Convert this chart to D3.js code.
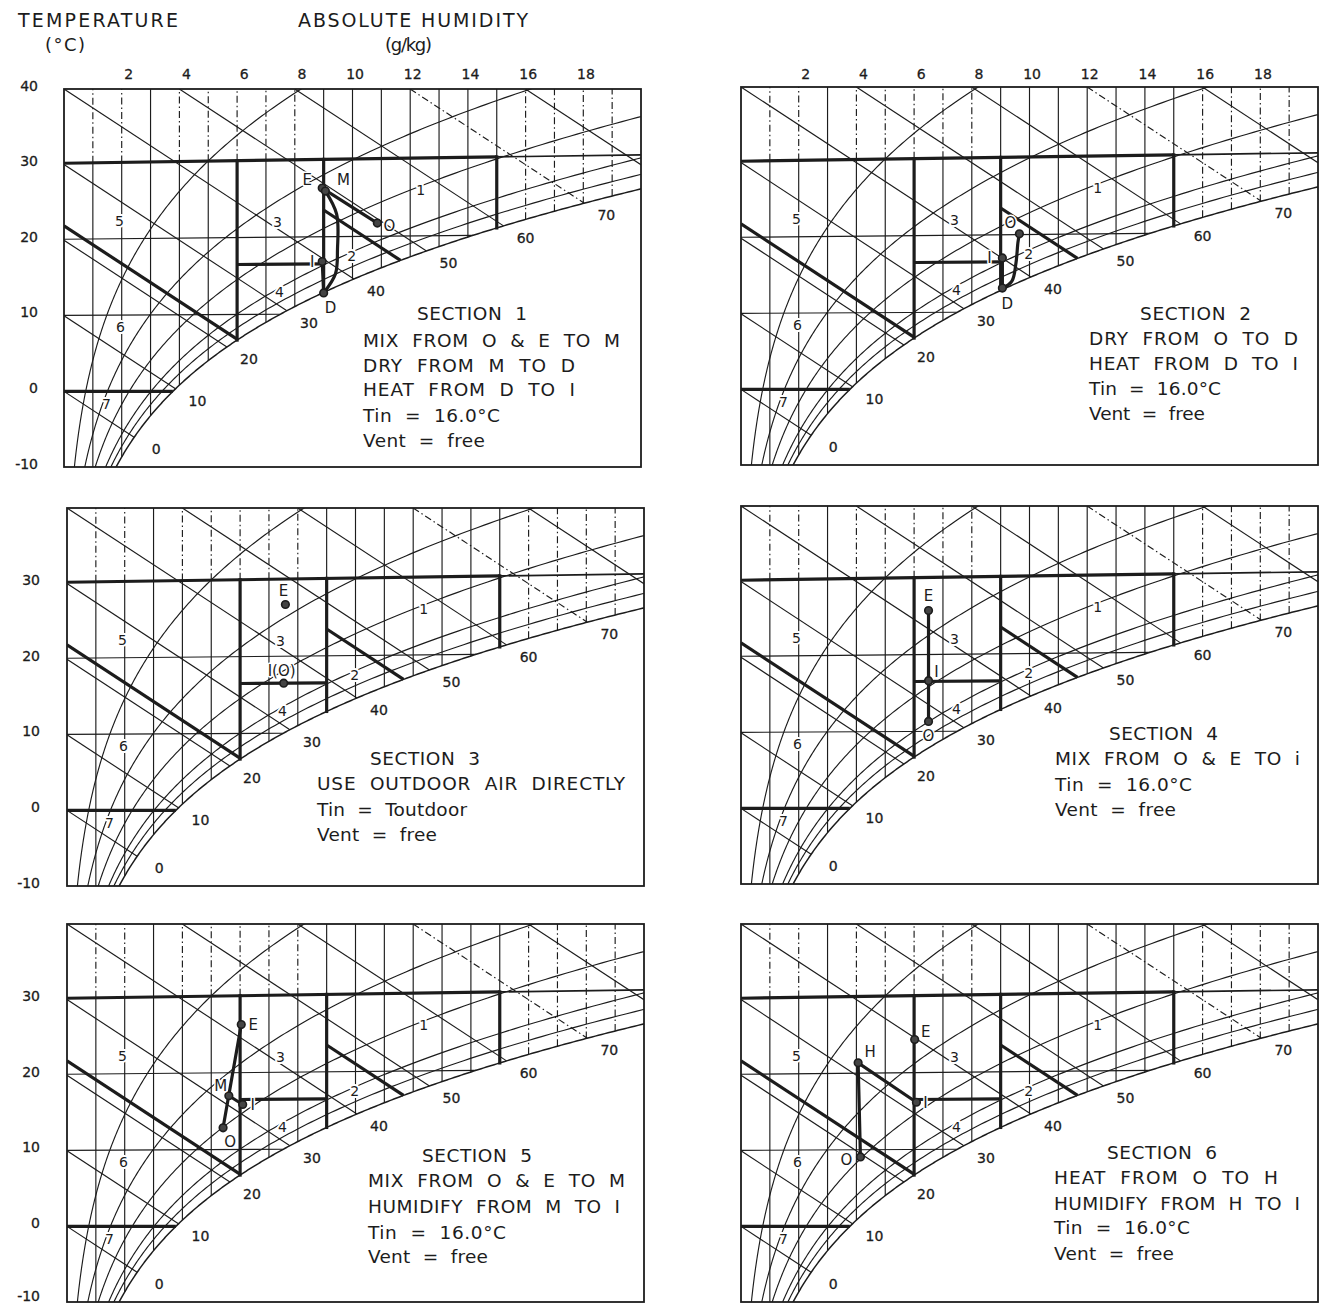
<!DOCTYPE html>
<html>
<head>
<meta charset="utf-8">
<script src="https://cdn.jsdelivr.net/npm/d3@7/dist/d3.min.js"></script>
<style>
html,body{margin:0;padding:0;background:#fff;}
svg{display:block;}
text{white-space:pre;}
</style>
</head>
<body>
<svg id="chart" width="1319" height="1303"></svg>
<script>
// ================= DATA =================
const humidityTicks = [2, 4, 6, 8, 10, 12, 14, 16, 18];
const temperatureTicksFirstRow = [40, 30, 20, 10, 0, -10];
const temperatureTicks = [30, 20, 10, 0, -10];
const humidityGrid = [1, 2, 3, 4, 5, 6, 7, 8, 9, 10, 11, 12, 13, 14, 15, 16, 17, 18, 19];
const dashedAboveT30 = [1, 2, 4, 5, 6, 7, 8];
const dashedFull = [16, 17, 18, 19];
const relativeHumidityCurves = [20, 40, 60, 80, 90];
const enthalpyLines = [0, 10, 20, 30, 40, 50, 60, 70, 80];
const dashedEnthalpy = [70];
const enthalpyLabels = [0, 10, 20, 30, 40, 50, 60, 70];
const thinIsotherms = [10, 20];
const boundaryHumidity = [6, 9, 15];
const boundaryEnthalpy = [{h: 21.9, fromX: 0}, {h: 46.5, fromX: 9}];
const setpointSegment = {T: 16.5, x1: 6, x2: 9};

const regionLabels = [
  {label: "1", x: 12.36, T: 25.9},
  {label: "2", x: 9.97, T: 17.55},
  {label: "3", x: 7.4, T: 22.0},
  {label: "4", x: 7.47, T: 12.95},
  {label: "5", x: 1.92, T: 22.3},
  {label: "6", x: 1.96, T: 8.5},
  {label: "7", x: 1.47, T: -1.6}
];

const sectionTexts = [
  ["SECTION  1", "MIX  FROM  O  &  E  TO  M", "DRY  FROM  M  TO  D", "HEAT  FROM  D  TO  I", "Tin  =  16.0°C", "Vent  =  free"],
  ["SECTION  2", "DRY  FROM  O  TO  D", "HEAT  FROM  D  TO  I", "Tin  =  16.0°C", "Vent  =  free"],
  ["SECTION  3", "USE  OUTDOOR  AIR  DIRECTLY", "Tin  =  Toutdoor", "Vent  =  free"],
  ["SECTION  4", "MIX  FROM  O  &  E  TO  i", "Tin  =  16.0°C", "Vent  =  free"],
  ["SECTION  5", "MIX  FROM  O  &  E  TO  M", "HUMIDIFY  FROM  M  TO  I", "Tin  =  16.0°C", "Vent  =  free"],
  ["SECTION  6", "HEAT  FROM  O  TO  H", "HUMIDIFY  FROM  H  TO  I", "Tin  =  16.0°C", "Vent  =  free"]
];

// state points (x in g/kg, T in °C)
const statePoints = [
  [{name: "E", x: 8.95, T: 26.3}, {name: "M", x: 9.06, T: 25.9}, {name: "O", x: 10.86, T: 21.7},
   {name: "I", x: 8.95, T: 16.8}, {name: "D", x: 9.0, T: 12.74}],
  [{name: "O", x: 9.65, T: 20.1}, {name: "I", x: 9.06, T: 17.0}, {name: "D", x: 9.06, T: 13.1}],
  [{name: "E", x: 7.57, T: 26.7}, {name: "I(O)", x: 7.51, T: 16.5}],
  [{name: "E", x: 6.5, T: 25.7}, {name: "I", x: 6.5, T: 16.6}, {name: "O", x: 6.5, T: 11.3}],
  [{name: "E", x: 6.04, T: 26.25}, {name: "M", x: 5.61, T: 17.0}, {name: "I", x: 6.09, T: 15.85}, {name: "O", x: 5.41, T: 12.83}],
  [{name: "E", x: 6.02, T: 24.3}, {name: "H", x: 4.06, T: 21.35}, {name: "I", x: 6.08, T: 16.14}, {name: "O", x: 4.14, T: 9.07}]
];

const processes = [
  [{from: "E", to: "O"}, {from: "M", to: "D", via: [[9.45, 22.9], [9.48, 18.4], [9.41, 15.2]]}, {from: "D", to: "I"}],
  [{from: "O", to: "D", via: [[9.6, 19.0], [9.53, 16.3], [9.39, 14.0]]}, {from: "D", to: "I"}],
  [],
  [{from: "E", to: "O"}],
  [{from: "O", to: "E"}, {from: "M", to: "I"}],
  [{from: "O", to: "H"}, {from: "H", to: "I"}]
];

// ================= LAYOUT =================
const PW = 577, PH = 378;
const layout = [
  {left: 64, top: 89, xLabels: true, yTicks: temperatureTicksFirstRow, yLabelRight: 38},
  {left: 741, top: 87, xLabels: true},
  {left: 67, top: 508, yTicks: temperatureTicks, yLabelRight: 40},
  {left: 741, top: 506},
  {left: 67, top: 924, yTicks: temperatureTicks, yLabelRight: 40},
  {left: 741, top: 924}
];
const pointLabelOffsets = [
  {E: [-15, -8], M: [18, -12], O: [12, 3], I: [-10, 0], D: [7, 15]},
  {O: [-9, -11], I: [-13, 0], D: [5, 15]},
  {E: [-2, -14], "I(O)": [-2, -13]},
  {E: [0, -15], I: [8, -9], O: [0, 14]},
  {E: [12, 0], M: [-8, -10], I: [10, 0], O: [7, 14]},
  {E: [11, -8], H: [12, -11], I: [9, 0], O: [-14, 3]}
];
const sectionLayout = [
  [[417, 313, 110], [363, 340, 257], [363, 365, 212], [363, 389, 212], [363, 415, 137], [363, 440, 122]],
  [[1140, 313, 111], [1089, 338, 209], [1089, 363, 209], [1089, 388, 132], [1089, 413, 116]],
  [[370, 758, 110], [317, 783, 308], [317, 809, 150], [317, 834, 120]],
  [[1109, 733, 109], [1055, 758, 245], [1055, 784, 137], [1055, 809, 121]],
  [[422, 1155, 110], [368, 1180, 257], [368, 1206, 252], [368, 1232, 138], [368, 1256, 120]],
  [[1107, 1152, 110], [1054, 1177, 224], [1054, 1203, 246], [1054, 1227, 136], [1054, 1253, 120]]
];

// ================= PSYCHROMETRICS =================
function pws(T) { return 0.61094 * Math.exp(17.625 * T / (T + 243.04)) * (1 - 0.0016 * T); }
function xAt(T, rh) { const pw = rh / 100 * pws(T); return 622 * pw / (101.325 - pw); }
function ord(x, T) { return T * (1.006 + 0.00186 * x); }
function tSat(x) { let lo = -60, hi = 60; for (let i = 0; i < 50; i++) { const m = (lo + hi) / 2; if (xAt(m, 100) < x) lo = m; else hi = m; } return (lo + hi) / 2; }
function ordSat(x) { return ord(x, tSat(x)); }
function hEnd(h) { let lo = 0, hi = 30; for (let i = 0; i < 50; i++) { const m = (lo + hi) / 2; if (h - 2.501 * m - ordSat(m) > 0) lo = m; else hi = m; } return (lo + hi) / 2; }

// ================= DRAW =================
const svg = d3.select("#chart");
const defs = svg.append("defs");
const INK = "#1c1c1c";
const DASH = "7,3,1.5,3";
const TXT = "'DejaVu Sans', sans-serif";
const NUM = "'DejaVu Sans', sans-serif";
const THIN = 1.15, THICK = 3.2;

function addText(g, str, x, yc, size, opts = {}) {
  let yb = yc + size * 0.36;
  if (yb > 1301) yb = 1301;
  const t = g.append("text").text(str)
    .attr("x", x).attr("y", yb)
    .attr("font-family", opts.family || TXT)
    .attr("font-size", size)
    .attr("font-weight", opts.weight || "normal")
    .attr("fill", INK)
    .attr("text-anchor", opts.anchor || "start");
  if (opts.width) t.attr("textLength", opts.width).attr("lengthAdjust", "spacing");
  if (opts.halo) t.attr("stroke", "#fff").attr("stroke-width", opts.halo).attr("paint-order", "stroke").attr("stroke-linejoin", "round");
  else if (opts.bold) t.attr("stroke", INK).attr("stroke-width", opts.bold);
  return t;
}

// titles
addText(svg, "TEMPERATURE", 18, 20, 19, {width: 160});
addText(svg, "(°C)", 45, 45, 18, {width: 40});
addText(svg, "ABSOLUTE HUMIDITY", 298, 20, 19, {width: 230});
addText(svg, "(g/kg)", 385, 45, 18, {width: 47});

layout.forEach((L, i) => {
  const sx = d3.scaleLinear().domain([0, 20]).range([L.left, L.left + PW]);
  const sy = d3.scaleLinear().domain([-10, 40]).range([L.top + PH, L.top]);
  const ln = d3.line().x(d => sx(d[0])).y(d => sy(d[1]));
  const g = svg.append("g");
  const cid = "clip" + i;
  defs.append("clipPath").attr("id", cid).append("rect")
    .attr("x", L.left).attr("y", L.top).attr("width", PW).attr("height", PH);
  const grid = g.append("g").attr("clip-path", `url(#${cid})`).attr("fill", "none").attr("stroke", INK);
  function seg(pts, w, dash, cap) {
    grid.append("path").attr("d", ln(pts)).attr("stroke-width", w)
      .attr("stroke-dasharray", dash || null).attr("stroke-linecap", cap || "butt");
  }

  // constant humidity lines
  humidityGrid.forEach(k => {
    const yb = Math.max(-10.5, ordSat(k));
    const y30 = ord(k, 30);
    if (dashedFull.includes(k)) seg([[k, yb], [k, 40.5]], THIN, DASH);
    else if (dashedAboveT30.includes(k)) { seg([[k, yb], [k, y30]], THIN); seg([[k, y30], [k, 40.5]], THIN, DASH); }
    else seg([[k, yb], [k, 40.5]], THIN);
  });

  // relative humidity curves
  relativeHumidityCurves.forEach(rh => {
    const pts = d3.range(-12, 60, 0.25).map(T => { const xx = xAt(T, rh); return [xx, ord(xx, T)]; }).filter(d => d[0] <= 22);
    seg(pts, THIN);
  });
  const sat = d3.range(-12, 40, 0.1).map(T => { const xx = xAt(T, 100); return [xx, ord(xx, T)]; }).filter(d => d[0] <= 22);
  seg(sat, 1.5);

  // enthalpy lines
  enthalpyLines.forEach(h => {
    const x0 = Math.max(0, (h - 40) / 2.501), xe = Math.min(20.5, hEnd(h));
    seg([[x0, h - 2.501 * x0], [xe, h - 2.501 * xe]], THIN, dashedEnthalpy.includes(h) ? DASH : null);
  });

  // isotherms
  thinIsotherms.forEach(T => { const xe = xAt(T, 100); seg([[0, ord(0, T)], [xe, ord(xe, T)]], THIN); });
  { const xe = xAt(0, 100); seg([[0, 0], [xe, 0]], THICK); }
  seg([[0, ord(0, 30)], [15, ord(15, 30)]], THICK);
  seg([[15, ord(15, 30)], [20.5, ord(20.5, 30)]], 1.7);

  // region boundaries
  boundaryHumidity.forEach(k => seg([[k, ord(k, 30)], [k, ordSat(k)]], THICK, null, "square"));
  boundaryEnthalpy.forEach(b => { const xe = hEnd(b.h); seg([[b.fromX, b.h - 2.501 * b.fromX], [xe, b.h - 2.501 * xe]], THICK); });
  seg([[setpointSegment.x1, ord(setpointSegment.x1, setpointSegment.T)], [setpointSegment.x2, ord(setpointSegment.x2, setpointSegment.T)]], THICK);

  // frame
  g.append("rect").attr("x", L.left).attr("y", L.top).attr("width", PW).attr("height", PH)
    .attr("fill", "none").attr("stroke", INK).attr("stroke-width", 1.8);

  // enthalpy labels
  enthalpyLabels.forEach(h => {
    const xe = hEnd(h);
    addText(g, String(h), sx(xe) + 22, sy(h - 2.501 * xe) + 12, 14, {family: NUM, anchor: "middle", bold: 0.3});
  });

  // region labels
  regionLabels.forEach(r => {
    addText(g, r.label, sx(r.x), sy(ord(r.x, r.T)), 14, {family: NUM, anchor: "middle", halo: 4});
  });

  // axis labels
  if (L.xLabels) humidityTicks.forEach(v => addText(g, String(v), sx(v) + 11.5, 74, 14, {family: NUM, anchor: "end", bold: 0.3}));
  if (L.yTicks) L.yTicks.forEach(v => addText(g, String(v), L.yLabelRight, sy(v) - 3.5, 14, {family: NUM, anchor: "end", bold: 0.3}));

  // processes
  const pts = {};
  statePoints[i].forEach(p => pts[p.name] = p);
  const curve = d3.line().x(d => sx(d[0])).y(d => sy(ord(d[0], d[1]))).curve(d3.curveCatmullRom.alpha(0.5));
  processes[i].forEach(pr => {
    const a = pts[pr.from], b = pts[pr.to];
    const list = [[a.x, a.T]].concat(pr.via || []).concat([[b.x, b.T]]);
    g.append("path").attr("d", curve(list)).attr("fill", "none").attr("stroke", INK)
      .attr("stroke-width", 3.2).attr("stroke-linecap", "round").attr("stroke-linejoin", "round");
  });
  statePoints[i].forEach(p => {
    const px = sx(p.x), py = sy(ord(p.x, p.T));
    g.append("circle").attr("cx", px).attr("cy", py).attr("r", 3.8)
      .attr("fill", "#444").attr("stroke", INK).attr("stroke-width", 1.6);
    const off = pointLabelOffsets[i][p.name] || [8, -8];
    addText(g, p.name, px + off[0], py + off[1], 15, {anchor: "middle", halo: 3});
  });

  // section texts
  sectionTexts[i].forEach((s, j) => {
    const [tx, ty, tw] = sectionLayout[i][j];
    addText(g, s, tx, ty, 18.5, {width: tw});
  });
});
</script>
</body>
</html>
